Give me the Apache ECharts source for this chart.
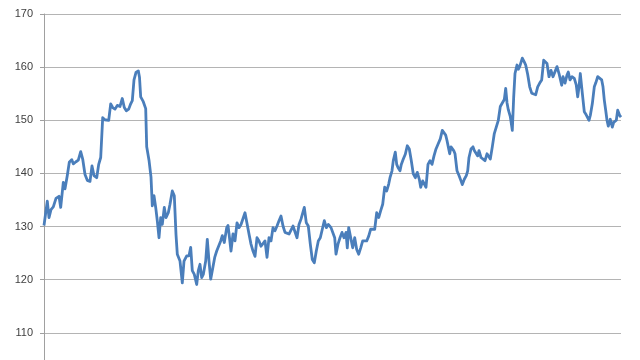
<!DOCTYPE html>
<html>
<head>
<meta charset="utf-8">
<script src="https://cdn.jsdelivr.net/npm/echarts@6/dist/echarts.min.js"></script>
<style>html,body{margin:0;padding:0;background:#fff}#c{width:640px;height:360px}</style>
</head>
<body>
<div id="c"></div>
<script>
// time index (trading days, relative) and price values
const t = [0,1.5,3.3,5,7,9.3,12,15,16.7,19.3,21,23.3,25.3,27.7,29.3,32,34.3,36.7,38.7,41,43.3,46,48,50,52.7,54.7,56.7,58.7,60.7,62.7,64.7,66.7,68.7,71,73.3,76,78.3,80.3,82.3,84.7,86.7,88.3,90,92,94.3,95.5,96.7,99.3,101.7,102.7,105,107,108.3,110,111.7,113.3,115,116.7,118.3,120.3,122,124.3,126,128.3,130.3,132,133.3,136,138.3,140,142.7,145,146.7,148.3,150.3,152.7,154.3,156,157.7,159.3,161.7,163.3,165,166.7,168.7,170.7,172.7,174.7,176.7,178.3,180.3,182.7,184,185.5,187,189,191,193,195,197,199,201,203,205,207,209,211,213,215,217,219,221,223,225,227,229,231,233,235,237,239,241,243,245,247,249,251,253,255,257,259,260.3,262.3,264.3,266.3,268.3,270.3,272.3,274.3,276.3,278.3,280.3,282.3,284.3,287,289,290.7,292,294,296,298,300,302,303.3,304.7,306.7,308.7,310.7,312.7,314.7,316.7,318.7,320.7,322.7,324.7,326.7,328.7,330.7,332.7,334.7,336.7,338.7,340.7,342.7,344.7,346,348,349.3,351.3,352.7,354,356,357.3,359.3,361.3,363.3,365.3,367.3,369.3,371.3,373.3,375.3,376.7,378.7,380.7,382,384,386,388,390,392,394,396.3,398.3,400.3,401.7,403,404.3,405.7,407,408.3,409.7,411,413,415,417,418.3,420.3,422.3,423.7,425,427,429,430.3,432.3,433.7,435,437,439,441,443,444.3,446.3,448.3,450.3,452.3,454.3,456.3,458.3,460.3,461.7,463,464.3,466.3,468.3,469.7,471,473,474.3,475.7,477,478.3,480,481.7,483.7,485.7,487.7,489.7,491.7,493.7,495.7,497.7,499.7,501.7,503,505,507,509,511,513,515,516.3,517.7,519,521,523,524.3,526,528,530.3,532.3,533.7,535,536.3,538.3,540.3,541.7,543,545,546.3,548.3,550.3,551.7,553.7,555.7,557.7,559,560.3,561.7,563,564.3,566.3,568.3,569.7,571,572.3,573.7,575.7,577];
const price = [130.2,130.2,134.8,131.7,133.2,133.7,135.3,135.7,133.6,138.3,137.1,139.6,142.1,142.6,141.8,142.2,142.5,144.1,142.7,139.8,138.7,138.5,141.4,139.6,139.2,141.7,143,150.5,150.1,150.2,150,153.1,152.4,152.1,152.8,152.6,154.1,152.4,151.8,152.1,153.1,153.7,157.6,159,159.3,158.1,154.4,153.5,152.2,145,142.5,139.3,133.9,135.8,133.6,131.1,127.9,131.7,130.4,133.6,131.7,132.6,134.2,136.7,135.8,128.5,124.8,123.5,119.4,123.5,124.5,124.5,126.1,121.7,121,119.1,121.7,122.9,120.4,121,123.5,127.6,123.5,120.1,120.1,124.2,125.4,125.7,127.3,128.3,127,129.8,130.2,127.9,125.4,128.6,127.3,130.7,129.8,130.4,130.4,132.6,132.3,128.6,126.7,125.4,124.4,127.9,127.3,126.3,126,127.3,124.2,127.9,127.3,129.8,129.2,130.1,131.1,132,130.1,128.9,129.2,128.6,128.9,130.1,129.8,127.9,130.4,131.4,131.1,133.6,130.7,130.1,126.7,123.8,123.2,125.4,127.3,127.9,129.5,131.1,129.8,130.4,129.8,129.6,127.9,124.8,126.7,127.9,128.9,127.9,128.9,126,129.8,129.6,126,127.9,125.7,124.8,126,127.3,127.6,127.3,128.2,129.5,129.8,129.5,132.6,131.7,133,134.2,137.4,136.7,138,139.2,140.5,142.4,144,141.7,141.1,140.5,141.7,142.7,143.6,145.2,144.6,142.4,139.9,139.2,140.2,138.9,137.4,138.6,138.3,137.4,141.7,142.4,141.7,143.3,144.6,145.5,146.5,148.1,148.4,147.2,146.2,145,143.7,145,145.3,144.3,143.7,140.5,139.6,138.6,137.9,138.9,139.6,140.5,143,144.6,145,144.3,144.6,143.3,144.3,143,143,142.4,143.7,144,142.7,145,147.5,147.2,150,152.6,152.3,153.9,156,153.3,152,150.7,148.1,154.4,158.8,160.4,159.6,160.1,159.9,161.7,161.1,160.4,158.6,156.3,155.1,155.4,154.8,156.3,157,157.6,161.3,161.6,160.7,158.2,159.4,158.2,158.2,160.1,158.8,158.5,156.6,158.2,157,158.5,159.1,157.6,158.2,157.9,156.6,154.4,156.3,158.8,155.1,151.6,151.2,150.9,150,150.9,153.1,156.3,157,158.2,158.5,157.6,156.3,153.8,151.9,150,148.9,150.2,148.7,149.6,149.3,150,151.9,150.9,150.6,150.6,150.4];
const yTicks = {min: 100, max: 170, interval: 10};

const chart = echarts.init(document.getElementById('c'), null, {renderer: 'canvas'});
chart.setOption({
  animation: false,
  backgroundColor: '#ffffff',
  grid: {left: 43, right: 19, top: 14, height: 372, containLabel: false, outerBoundsMode: 'none'},
  xAxis: {
    type: 'value', min: -1, max: 577,
    axisLine: {show: false}, axisTick: {show: false}, axisLabel: {show: false}, splitLine: {show: false}
  },
  yAxis: {
    type: 'value', min: yTicks.min, max: yTicks.max, interval: yTicks.interval,
    axisLine: {show: true, lineStyle: {color: '#a0a0a0', width: 1}},
    axisTick: {show: true, length: 4, lineStyle: {color: '#a0a0a0'}},
    axisLabel: {color: '#404040', fontSize: 11, fontFamily: 'Liberation Sans, Arial, sans-serif', margin: 10},
    splitLine: {show: true, lineStyle: {color: '#b4b4b4', width: 1}}
  },
  series: [{
    type: 'line',
    data: t.map((d, i) => [d, price[i]]),
    showSymbol: false,
    smooth: false,
    lineStyle: {color: '#4a7ebb', width: 2.8, join: 'round'},
    z: 3
  }]
});
</script>
</body>
</html>
